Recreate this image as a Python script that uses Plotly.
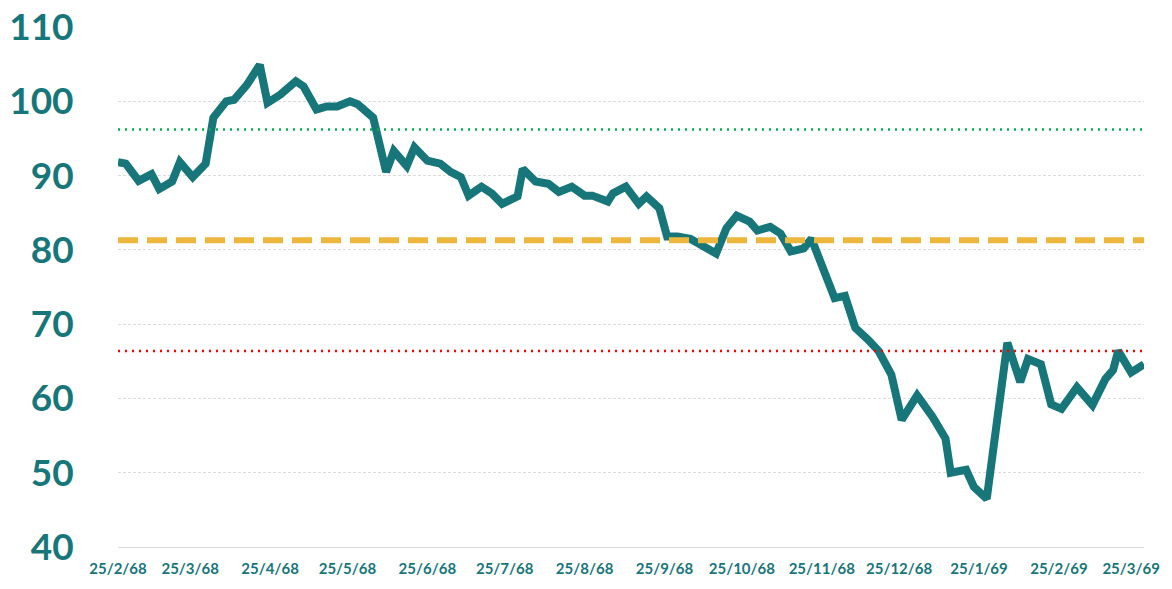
import plotly.graph_objects as go

# วันที่ของข้อมูล (ค.ศ.) และค่าที่อ่านได้จากกราฟ
dates = [
    "2025-02-25", "2025-02-28", "2025-03-05", "2025-03-10", "2025-03-13", "2025-03-18",
    "2025-03-21", "2025-03-26", "2025-03-31", "2025-04-03", "2025-04-08", "2025-04-11",
    "2025-04-16", "2025-04-21", "2025-04-24", "2025-04-29", "2025-05-05", "2025-05-08",
    "2025-05-13", "2025-05-17", "2025-05-21", "2025-05-26", "2025-05-29", "2025-06-04",
    "2025-06-09", "2025-06-12", "2025-06-17", "2025-06-20", "2025-06-25", "2025-06-30",
    "2025-07-04", "2025-07-08", "2025-07-11", "2025-07-16", "2025-07-20", "2025-07-24",
    "2025-07-30", "2025-08-01", "2025-08-06", "2025-08-11", "2025-08-15", "2025-08-20",
    "2025-08-25", "2025-08-28", "2025-09-03", "2025-09-05", "2025-09-10", "2025-09-15",
    "2025-09-18", "2025-09-23", "2025-09-26", "2025-09-30", "2025-10-05", "2025-10-15",
    "2025-10-19", "2025-10-23", "2025-10-28", "2025-10-31", "2025-11-05", "2025-11-09",
    "2025-11-13", "2025-11-18", "2025-11-21", "2025-11-25", "2025-11-30", "2025-12-04",
    "2025-12-08", "2025-12-13", "2025-12-17", "2025-12-22", "2025-12-26", "2026-01-01",
    "2026-01-07", "2026-01-12", "2026-01-14", "2026-01-20", "2026-01-23", "2026-01-28",
    "2026-02-05", "2026-02-10", "2026-02-13", "2026-02-18", "2026-02-22", "2026-02-26",
    "2026-03-04", "2026-03-10", "2026-03-15", "2026-03-18", "2026-03-20", "2026-03-25",
    "2026-03-30",
]
values = [
    91.8, 91.6, 89.3, 90.2, 88.2, 89.2,
    91.8, 89.8, 91.6, 97.8, 100.0, 100.2,
    102.2, 104.9, 99.8, 100.9, 102.7, 102.0,
    98.9, 99.3, 99.3, 100.0, 99.6, 97.8,
    90.5, 93.3, 91.3, 93.8, 92.0, 91.6,
    90.5, 89.8, 87.3, 88.5, 87.6, 86.2,
    87.2, 90.9, 89.2, 88.9, 87.8, 88.5,
    87.3, 87.3, 86.5, 87.6, 88.5, 86.2,
    87.2, 85.6, 81.8, 81.8, 81.5, 79.5,
    82.9, 84.6, 83.8, 82.6, 83.1, 82.2,
    79.8, 80.2, 81.5, 78.2, 73.5, 73.8,
    69.5, 67.9, 66.4, 63.2, 57.1, 60.4,
    57.5, 54.6, 50.0, 50.4, 48.1, 46.5,
    67.5, 62.2, 65.3, 64.6, 59.2, 58.6,
    61.5, 59.1, 62.6, 63.8, 66.4, 63.5,
    64.6,
]

# เส้นอ้างอิง: ค่าเฉลี่ย และขอบบน/ล่าง
mean_level = 81.3
upper_level = 96.2
lower_level = 66.4

# ป้ายแกน x (วันที่ 25 ของทุกเดือน แบบ พ.ศ.)
tick_dates = [
    "2025-02-25", "2025-03-25", "2025-04-25", "2025-05-25", "2025-06-25", "2025-07-25",
    "2025-08-25", "2025-09-25", "2025-10-25", "2025-11-25", "2025-12-25", "2026-01-25",
    "2026-02-25", "2026-03-25",
]
tick_labels = [
    "25/2/68", "25/3/68", "25/4/68", "25/5/68", "25/6/68", "25/7/68",
    "25/8/68", "25/9/68", "25/10/68", "25/11/68", "25/12/68", "25/1/69",
    "25/2/69", "25/3/69",
]

teal = "#17767a"

fig = go.Figure()
fig.add_trace(go.Scatter(x=dates, y=values, mode="lines",
                         line=dict(color=teal, width=8), hoverinfo="x+y"))

span = [dates[0], dates[-1]]
fig.add_trace(go.Scatter(x=span, y=[upper_level] * 2, mode="lines",
                         line=dict(color="#00b050", width=2.5, dash="2px,5px")))
fig.add_trace(go.Scatter(x=span, y=[mean_level] * 2, mode="lines",
                         line=dict(color="#edb73e", width=6, dash="20px,9px")))
fig.add_trace(go.Scatter(x=span, y=[lower_level] * 2, mode="lines",
                         line=dict(color="#ff0000", width=2.5, dash="2px,5px")))

fig.update_layout(
    width=1172, height=589,
    margin=dict(l=118, r=27, t=27, b=38),
    paper_bgcolor="white", plot_bgcolor="white",
    showlegend=False,
    font=dict(family="Lato, Inter, sans-serif", color=teal),
)

fig.update_xaxes(
    range=span, tickvals=tick_dates, ticktext=tick_labels,
    showgrid=False, zeroline=False,
    showline=True, linecolor="#dcdcdc", linewidth=1,
    ticks="outside", ticklen=8, tickcolor="rgba(0,0,0,0)",
    tickfont=dict(size=15, color=teal, weight="bold"),
)
fig.update_yaxes(
    range=[40, 110], dtick=10, automargin=False,
    showgrid=True, gridcolor="#dcdcdc", gridwidth=1, griddash="3px,2px",
    zeroline=False,
    ticks="outside", ticklen=36, tickcolor="rgba(0,0,0,0)",
    tickfont=dict(size=37, color=teal, weight="bold"),
)

fig.write_html("out.html", config={"displayModeBar": False},
               post_script="document.body.style.margin='0';")
